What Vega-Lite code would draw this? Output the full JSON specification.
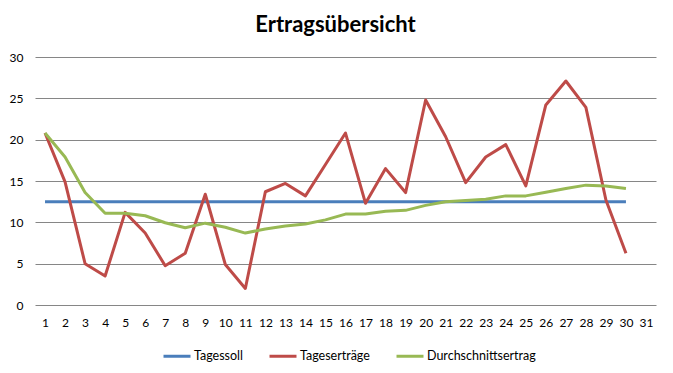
{
  "$schema": "https://vega.github.io/schema/vega-lite/v6.json",
  "width": 621,
  "height": 248,
  "autosize": {"type": "none"},
  "padding": {"left": 35, "top": 57, "right": 17, "bottom": 68},
  "background": "white",
  "title": {
    "text": "Ertragsübersicht",
    "font": "Lato",
    "fontSize": 22,
    "fontWeight": "bold",
    "color": "black",
    "anchor": "middle",
    "dx": -10,
    "offset": 14
  },
  "config": {
    "view": {"stroke": null},
    "font": "Lato"
  },
  "datasets": {
    "rows": [
      {"day": 1, "series": "Tagessoll", "value": 12.5},
      {"day": 2, "series": "Tagessoll", "value": 12.5},
      {"day": 3, "series": "Tagessoll", "value": 12.5},
      {"day": 4, "series": "Tagessoll", "value": 12.5},
      {"day": 5, "series": "Tagessoll", "value": 12.5},
      {"day": 6, "series": "Tagessoll", "value": 12.5},
      {"day": 7, "series": "Tagessoll", "value": 12.5},
      {"day": 8, "series": "Tagessoll", "value": 12.5},
      {"day": 9, "series": "Tagessoll", "value": 12.5},
      {"day": 10, "series": "Tagessoll", "value": 12.5},
      {"day": 11, "series": "Tagessoll", "value": 12.5},
      {"day": 12, "series": "Tagessoll", "value": 12.5},
      {"day": 13, "series": "Tagessoll", "value": 12.5},
      {"day": 14, "series": "Tagessoll", "value": 12.5},
      {"day": 15, "series": "Tagessoll", "value": 12.5},
      {"day": 16, "series": "Tagessoll", "value": 12.5},
      {"day": 17, "series": "Tagessoll", "value": 12.5},
      {"day": 18, "series": "Tagessoll", "value": 12.5},
      {"day": 19, "series": "Tagessoll", "value": 12.5},
      {"day": 20, "series": "Tagessoll", "value": 12.5},
      {"day": 21, "series": "Tagessoll", "value": 12.5},
      {"day": 22, "series": "Tagessoll", "value": 12.5},
      {"day": 23, "series": "Tagessoll", "value": 12.5},
      {"day": 24, "series": "Tagessoll", "value": 12.5},
      {"day": 25, "series": "Tagessoll", "value": 12.5},
      {"day": 26, "series": "Tagessoll", "value": 12.5},
      {"day": 27, "series": "Tagessoll", "value": 12.5},
      {"day": 28, "series": "Tagessoll", "value": 12.5},
      {"day": 29, "series": "Tagessoll", "value": 12.5},
      {"day": 30, "series": "Tagessoll", "value": 12.5},
      {"day": 1, "series": "Tageserträge", "value": 20.8},
      {"day": 2, "series": "Tageserträge", "value": 14.9},
      {"day": 3, "series": "Tageserträge", "value": 5.0},
      {"day": 4, "series": "Tageserträge", "value": 3.5},
      {"day": 5, "series": "Tageserträge", "value": 11.2},
      {"day": 6, "series": "Tageserträge", "value": 8.7},
      {"day": 7, "series": "Tageserträge", "value": 4.75},
      {"day": 8, "series": "Tageserträge", "value": 6.25},
      {"day": 9, "series": "Tageserträge", "value": 13.4},
      {"day": 10, "series": "Tageserträge", "value": 4.9},
      {"day": 11, "series": "Tageserträge", "value": 2.0},
      {"day": 12, "series": "Tageserträge", "value": 13.7},
      {"day": 13, "series": "Tageserträge", "value": 14.7},
      {"day": 14, "series": "Tageserträge", "value": 13.2},
      {"day": 15, "series": "Tageserträge", "value": 17.0},
      {"day": 16, "series": "Tageserträge", "value": 20.8},
      {"day": 17, "series": "Tageserträge", "value": 12.3},
      {"day": 18, "series": "Tageserträge", "value": 16.5},
      {"day": 19, "series": "Tageserträge", "value": 13.6},
      {"day": 20, "series": "Tageserträge", "value": 24.8},
      {"day": 21, "series": "Tageserträge", "value": 20.35},
      {"day": 22, "series": "Tageserträge", "value": 14.8},
      {"day": 23, "series": "Tageserträge", "value": 17.9},
      {"day": 24, "series": "Tageserträge", "value": 19.4},
      {"day": 25, "series": "Tageserträge", "value": 14.4},
      {"day": 26, "series": "Tageserträge", "value": 24.2},
      {"day": 27, "series": "Tageserträge", "value": 27.1},
      {"day": 28, "series": "Tageserträge", "value": 23.9},
      {"day": 29, "series": "Tageserträge", "value": 12.7},
      {"day": 30, "series": "Tageserträge", "value": 6.25},
      {"day": 1, "series": "Durchschnittsertrag", "value": 20.8},
      {"day": 2, "series": "Durchschnittsertrag", "value": 17.9},
      {"day": 3, "series": "Durchschnittsertrag", "value": 13.6},
      {"day": 4, "series": "Durchschnittsertrag", "value": 11.1},
      {"day": 5, "series": "Durchschnittsertrag", "value": 11.1},
      {"day": 6, "series": "Durchschnittsertrag", "value": 10.8},
      {"day": 7, "series": "Durchschnittsertrag", "value": 9.95},
      {"day": 8, "series": "Durchschnittsertrag", "value": 9.35},
      {"day": 9, "series": "Durchschnittsertrag", "value": 9.9},
      {"day": 10, "series": "Durchschnittsertrag", "value": 9.4},
      {"day": 11, "series": "Durchschnittsertrag", "value": 8.7},
      {"day": 12, "series": "Durchschnittsertrag", "value": 9.2},
      {"day": 13, "series": "Durchschnittsertrag", "value": 9.55},
      {"day": 14, "series": "Durchschnittsertrag", "value": 9.8},
      {"day": 15, "series": "Durchschnittsertrag", "value": 10.3},
      {"day": 16, "series": "Durchschnittsertrag", "value": 11.0},
      {"day": 17, "series": "Durchschnittsertrag", "value": 11.0},
      {"day": 18, "series": "Durchschnittsertrag", "value": 11.35},
      {"day": 19, "series": "Durchschnittsertrag", "value": 11.45},
      {"day": 20, "series": "Durchschnittsertrag", "value": 12.05},
      {"day": 21, "series": "Durchschnittsertrag", "value": 12.5},
      {"day": 22, "series": "Durchschnittsertrag", "value": 12.65},
      {"day": 23, "series": "Durchschnittsertrag", "value": 12.8},
      {"day": 24, "series": "Durchschnittsertrag", "value": 13.2},
      {"day": 25, "series": "Durchschnittsertrag", "value": 13.2},
      {"day": 26, "series": "Durchschnittsertrag", "value": 13.65},
      {"day": 27, "series": "Durchschnittsertrag", "value": 14.1},
      {"day": 28, "series": "Durchschnittsertrag", "value": 14.5},
      {"day": 29, "series": "Durchschnittsertrag", "value": 14.4},
      {"day": 30, "series": "Durchschnittsertrag", "value": 14.1}
    ]
  },
  "data": {"name": "rows"},
  "mark": {"type": "line", "strokeWidth": 3, "strokeJoin": "round"},
  "encoding": {
    "x": {
      "field": "day",
      "type": "ordinal",
      "scale": {"domain": [1,2,3,4,5,6,7,8,9,10,11,12,13,14,15,16,17,18,19,20,21,22,23,24,25,26,27,28,29,30,31], "padding": 0.5},
      "axis": {
        "title": null,
        "labelAngle": 0,
        "ticks": false,
        "domain": false,
        "grid": false,
        "labelPadding": 12,
        "labelFont": "Lato",
        "labelFontSize": 12,
        "labelColor": "black"
      }
    },
    "y": {
      "field": "value",
      "type": "quantitative",
      "scale": {"domain": [0, 30], "nice": false},
      "axis": {
        "title": null,
        "values": [0, 5, 10, 15, 20, 25, 30],
        "ticks": false,
        "domain": false,
        "grid": true,
        "gridColor": "#868686",
        "gridWidth": 1,
        "gridOpacity": 1,
        "labelPadding": 12,
        "labelFont": "Lato",
        "labelFontSize": 12,
        "labelColor": "black"
      }
    },
    "color": {
      "field": "series",
      "type": "nominal",
      "sort": null,
      "scale": {
        "domain": ["Tagessoll", "Tageserträge", "Durchschnittsertrag"],
        "range": ["#4A7EBB", "#BE4B48", "#98B954"]
      },
      "legend": {
        "title": null,
        "orient": "none",
        "direction": "horizontal",
        "legendX": 127,
        "legendY": 284,
        "symbolType": "stroke",
        "symbolSize": 729,
        "symbolStrokeWidth": 3,
        "labelFont": "Lato",
        "labelFontSize": 12.5,
        "labelColor": "black",
        "labelOffset": 2,
        "columnPadding": 20
      }
    }
  }
}
